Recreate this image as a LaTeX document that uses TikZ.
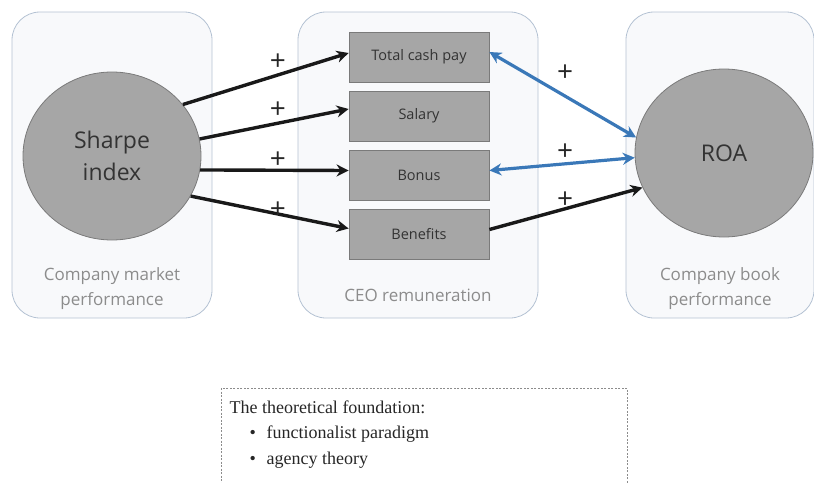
\documentclass[tikz,border=0pt]{standalone}
\usepackage{fontspec}
\setmainfont{Liberation Serif}
\newfontfamily\diagfont{Open Sans}
\usetikzlibrary{arrows.meta,positioning,shapes.geometric}
\definecolor{contfill}{HTML}{F8F9FB}
\definecolor{contdraw}{HTML}{B4C2D3}
\definecolor{shapefill}{HTML}{A6A6A6}
\definecolor{shapedraw}{HTML}{7A7A7A}
\definecolor{bluearrow}{HTML}{3A78B8}
\definecolor{labelgray}{HTML}{8C8C8C}
\tikzset{
  container/.style={draw=contdraw, fill=contfill, rounded corners=28pt, line width=0.8pt, minimum width=#1, minimum height=306pt, inner sep=0pt},
  bigcircle/.style={ellipse, draw=shapedraw, fill=shapefill, line width=0.8pt, minimum width=178pt, minimum height=168pt, inner sep=0pt, align=center, font=\diagfont\fontsize{23}{32}\selectfont, text=black!80},
  compbox/.style={draw=shapedraw, fill=shapefill, line width=0.8pt, minimum width=140pt, minimum height=50pt, inner sep=0pt, font=\diagfont\fontsize{14.5}{16}\selectfont, text=black!80},
  contlabel/.style={font=\diagfont\fontsize{17}{25}\selectfont, text=labelgray, align=center},
  plus/.style={font=\diagfont\fontsize{28}{28}\selectfont, text=black!85},
  blackarrow/.style={draw=black!90, line width=3.4pt, -{Stealth[length=12pt,width=12pt]}},
  bluedouble/.style={draw=bluearrow, line width=3.2pt, {Stealth[length=12pt,width=12pt]}-{Stealth[length=12pt,width=12pt]}},
  notebox/.style={draw=black!45, dashed, dash pattern=on 2pt off 1.5pt, line width=0.6pt},
  notetext/.style={anchor=west, font=\fontsize{18}{20}\selectfont, text=black!85}
}
\begin{document}
\begin{tikzpicture}[x=1pt,y=-1pt]
\useasboundingbox (0,0) rectangle (814,482);
\clip (0,0) rectangle (814,482);
% containers
\node[container=200pt] (leftc) at (112,165) {};
\node[container=240pt] (midc) at (418,165) {};
\node[container=188pt] (rightc) at (720,165) {};
% circles
\node[bigcircle] (sharpe) at (112,156) {Sharpe\\index};
\node[bigcircle] (roa) at (724,153) {ROA};
% boxes
\node[compbox] (tcp) at (419,57) {Total cash pay};
\node[compbox] (sal) at (419,116) {Salary};
\node[compbox] (bon) at (419,175.5) {Bonus};
\node[compbox] (ben) at (419,234.5) {Benefits};
% container labels
\node[contlabel] (lml) at (112,289) {Company market\\performance};
\node[contlabel] (mml) at (418,295) {CEO remuneration};
\node[contlabel] (rml) at (720,289) {Company book\\performance};
% arrows from Sharpe
\draw[blackarrow] (sharpe.36) -- ([yshift=4pt]tcp.west);
\draw[blackarrow] (sharpe.11) -- ([yshift=7pt]sal.west);
\draw[blackarrow] (sharpe.-9) -- ([yshift=5pt]bon.west);
\draw[blackarrow] (sharpe.-27) -- ([yshift=6pt]ben.west);
\node[plus] (p1) at (278,62) {+};
\node[plus] (p2) at (278,110) {+};
\node[plus] (p3) at (278,160) {+};
\node[plus] (p4) at (278,210) {+};
% arrows to ROA
\draw[bluedouble] ([yshift=5pt]tcp.east) -- (roa.170);
\draw[bluedouble] ([yshift=5pt]bon.east) -- (roa.183);
\draw[blackarrow] ([yshift=5pt]ben.east) -- (roa.203);
\node[plus] (p5) at (565,73) {+};
\node[plus] (p6) at (565,152) {+};
\node[plus] (p7) at (565,200) {+};
% note box
\draw[notebox] (221,388) rectangle (627,500);
\node[notetext] (t0) at (226,407) {The theoretical foundation:};
\node[notetext] (b1) at (246,434) {\textbullet};
\node[notetext] (t1) at (263,434) {functionalist paradigm};
\node[notetext] (b2) at (246,460) {\textbullet};
\node[notetext] (t2) at (263,460) {agency theory};
\end{tikzpicture}
\end{document}
